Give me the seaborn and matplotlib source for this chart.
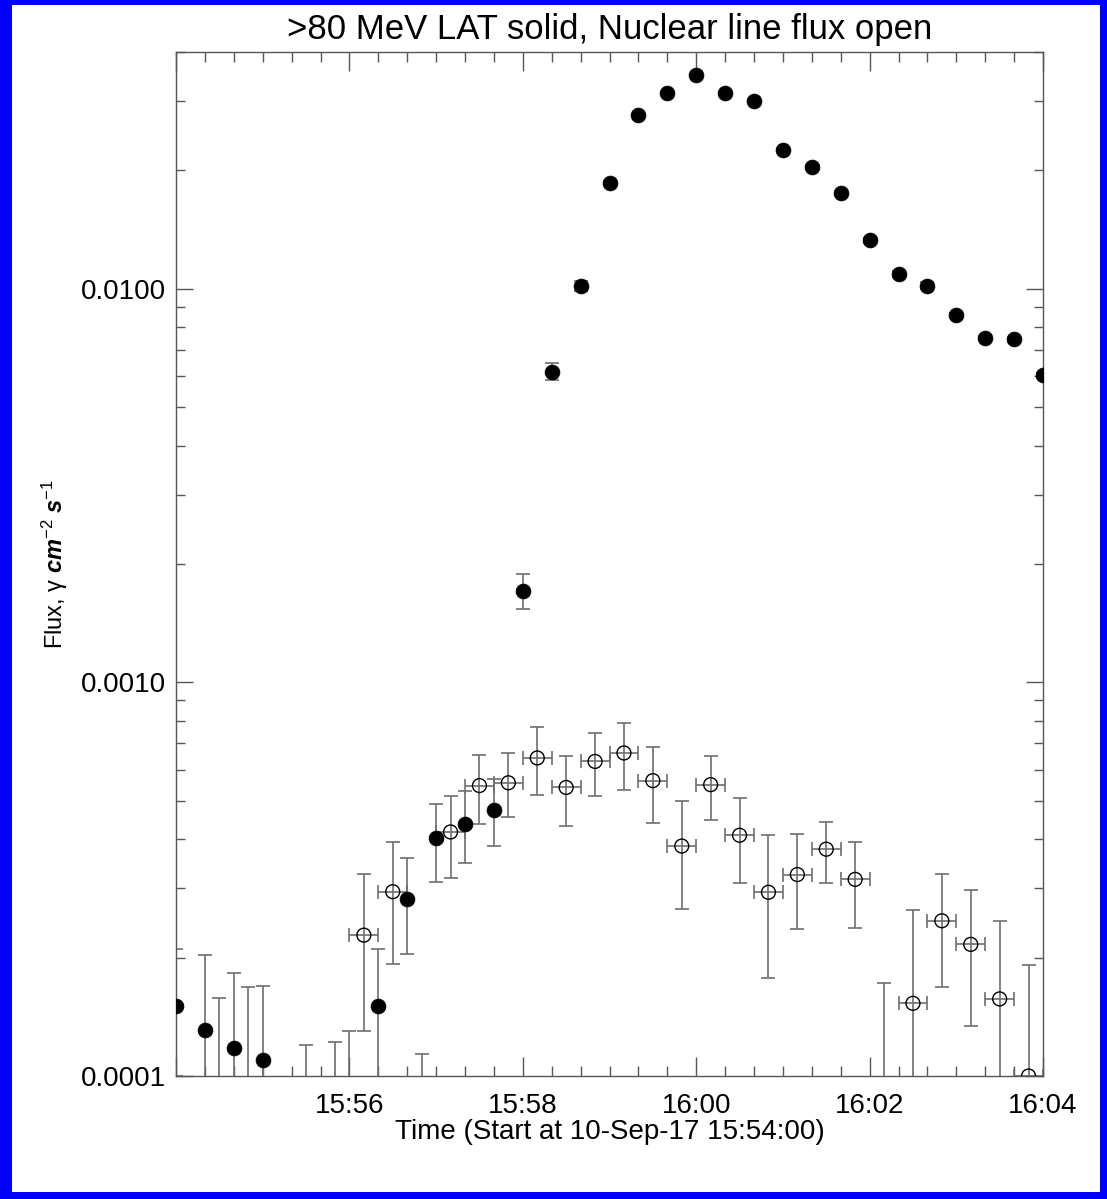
import numpy as np
import pandas as pd
import matplotlib
matplotlib.use("Agg")
import matplotlib.pyplot as plt
from matplotlib.patches import Rectangle
from matplotlib.ticker import FixedLocator, MultipleLocator, FuncFormatter, LogLocator, NullFormatter
import seaborn as sns

# seconds after 10-Sep-17 15:54:00
lat_time = [0, 20, 40, 60, 80, 100, 120, 140, 160, 180, 200, 220, 240, 260, 280,
            300, 320, 340, 360, 380, 400, 420, 440, 460, 480, 500, 520, 540, 560, 580, 600]
lat_flux = [1.51e-4, 1.31e-4, 1.18e-4, 1.10e-4, np.nan, np.nan, 7.0e-5, 1.51e-4,
            2.82e-4, 4.02e-4, 4.36e-4, 4.75e-4, 1.71e-3, 6.15e-3, 0.0102,
            0.0186, 0.0277, 0.0315, 0.0350, 0.0314, 0.0301, 0.0226, 0.0204, 0.0175,
            0.0133, 0.0109, 0.0102, 0.00857, 0.0075, 0.00746, 0.00604]
lat_lo = [1.0e-4, 5.0e-5, 5.0e-5, 5.0e-5, np.nan, np.nan, 5.0e-5, 5.0e-5,
          2.04e-4, 3.12e-4, 3.47e-4, 3.83e-4, 1.54e-3, 5.86e-3, 0.0099,
          0.0184, 0.0275, 0.0313, 0.0348, 0.0312, 0.0299, 0.0224, 0.0202, 0.0173,
          0.0131, 0.0107, 0.0100, 0.00845, 0.0074, 0.00735, 0.00595]
lat_hi = [2.1e-4, 2.03e-4, 1.83e-4, 1.69e-4, np.nan, np.nan, 1.30e-4, 2.10e-4,
          3.59e-4, 4.92e-4, 5.29e-4, 5.68e-4, 1.89e-3, 6.50e-3, 0.0105,
          0.0188, 0.0279, 0.0317, 0.0352, 0.0316, 0.0303, 0.0228, 0.0206, 0.0177,
          0.0135, 0.0111, 0.0104, 0.00869, 0.0076, 0.00757, 0.00613]

nuc_time = [30, 50, 90, 110, 130, 150, 170, 190, 210, 230, 250, 270, 290, 310, 330,
            350, 370, 390, 410, 430, 450, 470, 490, 510, 530, 550, 570, 590]
nuc_flux = [7.0e-5, 7.0e-5, 6.0e-5, 6.0e-5, 2.28e-4, 2.94e-4, 6.0e-5, 4.17e-4,
            5.47e-4, 5.56e-4, 6.43e-4, 5.41e-4, 6.30e-4, 6.62e-4, 5.63e-4,
            3.84e-4, 5.50e-4, 4.09e-4, 2.93e-4, 3.25e-4, 3.77e-4, 3.16e-4,
            7.0e-5, 1.53e-4, 2.48e-4, 2.16e-4, 1.57e-4, 1.00e-4]
nuc_lo = [3.0e-5, 3.0e-5, 3.0e-5, 3.0e-5, 1.30e-4, 1.93e-4, 3.0e-5, 3.19e-4,
          4.38e-4, 4.55e-4, 5.17e-4, 4.31e-4, 5.16e-4, 5.34e-4, 4.40e-4,
          2.65e-4, 4.46e-4, 3.09e-4, 1.77e-4, 2.37e-4, 3.10e-4, 2.38e-4,
          3.0e-5, 5.0e-5, 1.68e-4, 1.34e-4, 5.0e-5, 5.0e-5]
nuc_hi = [1.58e-4, 1.68e-4, 1.20e-4, 1.22e-4, 3.26e-4, 3.93e-4, 1.14e-4, 5.14e-4,
          6.54e-4, 6.61e-4, 7.69e-4, 6.49e-4, 7.42e-4, 7.88e-4, 6.85e-4,
          5.00e-4, 6.52e-4, 5.09e-4, 4.10e-4, 4.12e-4, 4.42e-4, 3.93e-4,
          1.72e-4, 2.64e-4, 3.27e-4, 2.97e-4, 2.47e-4, 1.92e-4]
nuc_half_width = 10  # seconds

y_ticks = [1e-4, 1e-3, 1e-2]
x_tick_labels = ["", "15:56", "15:58", "16:00", "16:02", "16:04"]

lat = pd.DataFrame({"t": lat_time, "flux": lat_flux, "lo": lat_lo, "hi": lat_hi})
nuc = pd.DataFrame({"t": nuc_time, "flux": nuc_flux, "lo": nuc_lo, "hi": nuc_hi})

sns.set_style("ticks")
plt.rcParams["font.family"] = ["Liberation Sans", "DejaVu Sans"]
plt.rcParams["text.color"] = "black"
plt.rcParams["axes.labelcolor"] = "black"
plt.rcParams["mathtext.fontset"] = "custom"
plt.rcParams["mathtext.rm"] = "Liberation Sans"
plt.rcParams["mathtext.it"] = "Liberation Sans:italic"
plt.rcParams["mathtext.bf"] = "Liberation Sans:bold"
plt.rcParams["mathtext.bfit"] = "Liberation Sans:italic:bold"

W, H = 1107, 1199
fig = plt.figure(figsize=(W / 100, H / 100), dpi=100)
fig.patch.set_facecolor("#0000ff")
fig.patches.append(Rectangle((12 / W, 7 / H), (1100 - 12) / W, (1194 - 7) / H,
                             transform=fig.transFigure, facecolor="white",
                             edgecolor="none", zorder=-5))

ax = fig.add_axes([176 / W, 1 - 1076 / H, (1043 - 176) / W, (1076 - 52) / H])
ax.set_zorder(2)
ax.set_facecolor("white")

err_col = "#6e6e6e"

# nuclear line flux: open circles with x and y bars
ax.errorbar(nuc["t"], nuc["flux"], xerr=nuc_half_width,
            yerr=[nuc["flux"] - nuc["lo"], nuc["hi"] - nuc["flux"]],
            fmt="none", ecolor=err_col, elinewidth=1.2, capsize=5, capthick=1.2, zorder=2)
# LAT flux error bars
ax.errorbar(lat["t"], lat["flux"],
            yerr=[lat["flux"] - lat["lo"], lat["hi"] - lat["flux"]],
            fmt="none", ecolor=err_col, elinewidth=1.2, capsize=5, capthick=1.2, zorder=2)

sns.scatterplot(data=nuc, x="t", y="flux", ax=ax, marker="o", s=100,
                facecolor="none", edgecolor="black", linewidth=1.0, zorder=3)
sns.scatterplot(data=lat, x="t", y="flux", ax=ax, marker="o", s=115,
                color="black", edgecolor="black", linewidth=0.5, zorder=4)

ax.set_yscale("log")
ax.set_ylim(1e-4, 0.04)
ax.set_xlim(0, 600)

ax.xaxis.set_major_locator(FixedLocator([0, 120, 240, 360, 480, 600]))
ax.xaxis.set_major_formatter(FuncFormatter(lambda v, p: x_tick_labels[int(round(v / 120))]))
ax.xaxis.set_minor_locator(MultipleLocator(20))
ax.yaxis.set_major_locator(FixedLocator(y_ticks))
ax.yaxis.set_major_formatter(FuncFormatter(lambda v, p: f"{v:.4f}"))
ax.yaxis.set_minor_locator(LogLocator(base=10, subs=np.arange(2, 10)))
ax.yaxis.set_minor_formatter(NullFormatter())

ax.tick_params(axis="both", which="both", direction="in", top=True, right=True,
               colors="#555555", labelcolor="black", labelsize=20, width=1.0)
ax.tick_params(axis="x", which="major", length=14, pad=12)
ax.tick_params(axis="x", which="minor", length=7)
ax.tick_params(axis="y", which="major", length=12, pad=7)
ax.tick_params(axis="y", which="minor", length=6.5)
for sp in ax.spines.values():
    sp.set_color("#555555")
    sp.set_linewidth(1.0)

ax.set_xlabel("Time (Start at 10-Sep-17 15:54:00)", fontsize=20, labelpad=0)
ax.set_ylabel(r"Flux, γ $\mathbfit{cm}^{-2}$ $\mathbfit{s}^{-1}$", fontsize=17, labelpad=8)
ax.text(0.5, 1 + 22 / (1076 - 52), ">80 MeV LAT solid, Nuclear line flux open",
        transform=ax.transAxes, ha="center", va="center", fontsize=25, color="black")

fig.savefig("out.png", dpi=100, facecolor=fig.get_facecolor())
